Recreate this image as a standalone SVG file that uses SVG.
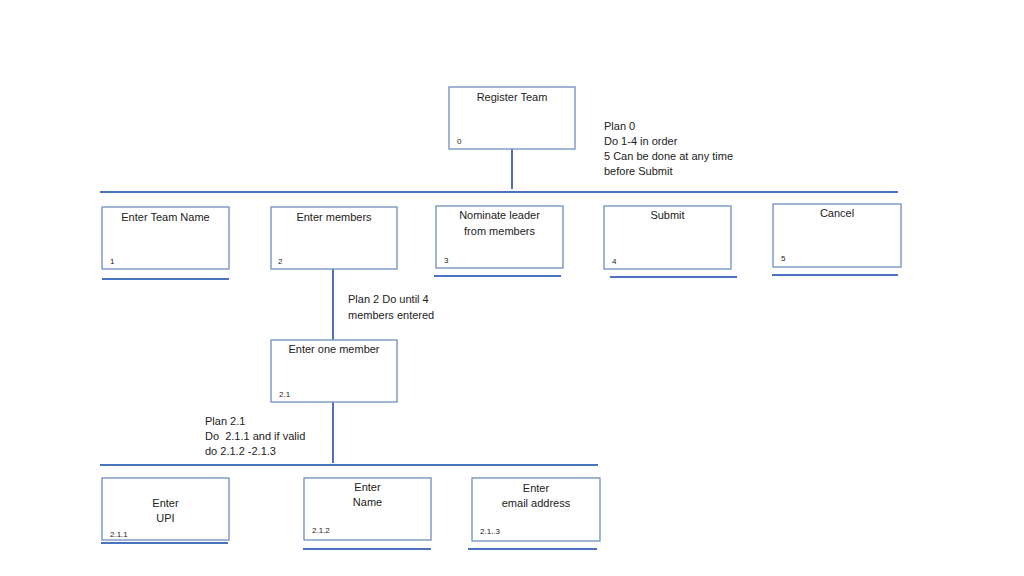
<svg xmlns="http://www.w3.org/2000/svg" width="1024" height="576" viewBox="0 0 1024 576">
<style>
.box{fill:#fff;stroke:#6f8fbf;stroke-width:1.3}
.t{font-family:"Liberation Sans",Arial,sans-serif;font-size:11px;fill:#222}
.n{font-family:"Liberation Sans",Arial,sans-serif;font-size:8px;fill:#222}
.c{text-anchor:middle}
.ln{stroke:#4a72c0;stroke-width:2;fill:none}
</style>
<rect width="1024" height="576" fill="#fff"/>
<g id="connectors">
<line class="ln" x1="512" y1="149" x2="512" y2="189"/>
<line class="ln" x1="100" y1="192" x2="898" y2="192"/>
<line class="ln" x1="102" y1="279" x2="229" y2="279"/>
<line class="ln" x1="434" y1="276" x2="561" y2="276"/>
<line class="ln" x1="610" y1="277" x2="737" y2="277"/>
<line class="ln" x1="772" y1="275" x2="898" y2="275"/>
<line class="ln" x1="333" y1="268" x2="333" y2="340"/>
<line class="ln" x1="333" y1="402" x2="333" y2="463"/>
<line class="ln" x1="100" y1="465" x2="598" y2="465"/>
<line class="ln" x1="101" y1="543" x2="228" y2="543"/>
<line class="ln" x1="303" y1="549" x2="431" y2="549"/>
<line class="ln" x1="468" y1="549" x2="597" y2="549"/>
</g>
<g id="node-0">
<rect class="box" x="449" y="87" width="126" height="62"/>
<text class="t c" x="512" y="101">Register Team</text>
<text class="n" x="457" y="144">0</text>
</g>
<g id="plan-0">
<text class="t" x="604" y="130">Plan 0</text>
<text class="t" x="604" y="145">Do 1-4 in order</text>
<text class="t" x="604" y="160">5 Can be done at any time</text>
<text class="t" x="604" y="175">before Submit</text>
</g>
<g id="node-1">
<rect class="box" x="102" y="207" width="127" height="62"/>
<text class="t c" x="165.5" y="221">Enter Team Name</text>
<text class="n" x="110" y="264">1</text>
</g>
<g id="node-2">
<rect class="box" x="271" y="207" width="126" height="62"/>
<text class="t c" x="334" y="221">Enter members</text>
<text class="n" x="278" y="264">2</text>
</g>
<g id="node-3">
<rect class="box" x="436" y="206" width="127" height="62"/>
<text class="t c" x="499.5" y="219">Nominate leader</text>
<text class="t c" x="499.5" y="235">from members</text>
<text class="n" x="444" y="263">3</text>
</g>
<g id="node-4">
<rect class="box" x="604" y="206" width="127" height="63"/>
<text class="t c" x="667.5" y="219">Submit</text>
<text class="n" x="612" y="264">4</text>
</g>
<g id="node-5">
<rect class="box" x="773" y="204" width="128" height="63"/>
<text class="t c" x="837" y="217">Cancel</text>
<text class="n" x="781" y="261">5</text>
</g>
<g id="plan-2">
<text class="t" x="348" y="303">Plan 2 Do until 4</text>
<text class="t" x="348" y="319">members entered</text>
</g>
<g id="node-2-1">
<rect class="box" x="271" y="340" width="126" height="62"/>
<text class="t c" x="334" y="353">Enter one member</text>
<text class="n" x="279" y="397">2.1</text>
</g>
<g id="plan-2-1">
<text class="t" x="205" y="425">Plan 2.1</text>
<text class="t" x="205" y="440">Do &#160;2.1.1 and if valid</text>
<text class="t" x="205" y="455">do 2.1.2 -2.1.3</text>
</g>
<g id="node-2-1-1">
<rect class="box" x="102" y="478" width="127" height="62"/>
<text class="t c" x="165.5" y="507">Enter</text>
<text class="t c" x="165.5" y="522">UPI</text>
<text class="n" x="110" y="537">2.1.1</text>
</g>
<g id="node-2-1-2">
<rect class="box" x="304" y="478" width="127" height="62"/>
<text class="t c" x="367.5" y="491">Enter</text>
<text class="t c" x="367.5" y="506">Name</text>
<text class="n" x="312" y="533">2.1.2</text>
</g>
<g id="node-2-1-3">
<rect class="box" x="472" y="478" width="128" height="63"/>
<text class="t c" x="536" y="492">Enter</text>
<text class="t c" x="536" y="507">email address</text>
<text class="n" x="480" y="534">2.1..3</text>
</g>
</svg>
